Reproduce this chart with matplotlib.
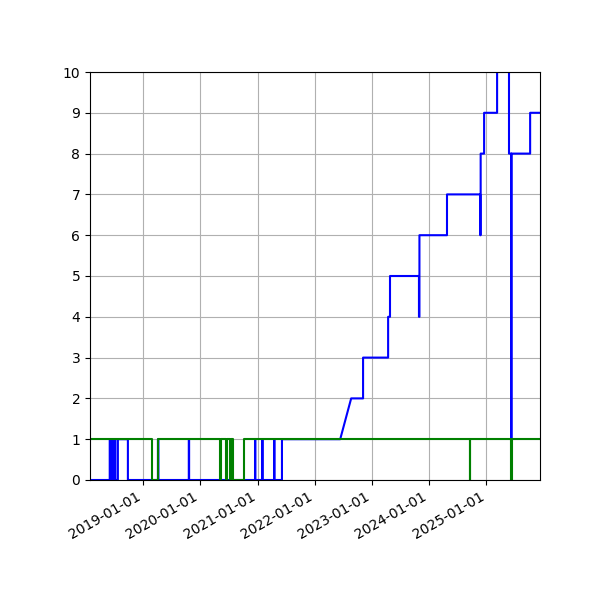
import matplotlib
matplotlib.use('Agg')
import matplotlib.pyplot as plt
import matplotlib.dates as mdates
import pandas as pd

# blue series: (date, value), repeated dates give vertical jumps
blue_dates = ['2018-01-27', '2018-06-02', '2018-06-02', '2018-06-08', '2018-06-08', '2018-06-15', '2018-06-15',
              '2018-06-22', '2018-06-22', '2018-06-30', '2018-06-30', '2018-07-08', '2018-07-08',
              '2018-07-24', '2018-07-24', '2018-09-26', '2018-09-26', '2018-09-28', '2018-09-28',
              '2019-04-06', '2019-04-06', '2019-04-09', '2019-04-09',
              '2019-10-20', '2019-10-20', '2019-10-22', '2019-10-22',
              '2020-12-16', '2020-12-16', '2020-12-18', '2020-12-18',
              '2021-01-31', '2021-01-31', '2021-02-02', '2021-02-02',
              '2021-04-17', '2021-04-17', '2021-04-19', '2021-04-19',
              '2021-06-06', '2021-06-06', '2022-06-13', '2022-08-22', '2022-11-06', '2022-11-06',
              '2023-04-15', '2023-04-15', '2023-04-27', '2023-04-27', '2023-10-29', '2023-10-29',
              '2023-11-01', '2023-11-01', '2024-04-25', '2024-04-25', '2024-11-23', '2024-11-23',
              '2024-11-26', '2024-11-26', '2024-12-18', '2024-12-18', '2025-03-11', '2025-03-11',
              '2025-05-26', '2025-05-26', '2025-06-09', '2025-06-09', '2025-06-11', '2025-06-11',
              '2025-10-08', '2025-10-08', '2025-12-10']
blue_vals = [0, 0, 1, 1, 0, 0, 1,
             1, 0, 0, 1, 1, 0,
             0, 1, 1, 0, 0, 0,
             0, 1, 1, 0,
             0, 1, 1, 0,
             0, 1, 1, 0,
             0, 1, 1, 0,
             0, 1, 1, 0,
             0, 1, 1, 2, 2, 3,
             3, 4, 4, 5, 5, 4,
             4, 6, 6, 7, 7, 6,
             6, 8, 8, 9, 9, 11,
             11, 8, 8, 0, 0, 8,
             8, 9, 9]

green_dates = ['2018-01-27', '2019-02-27', '2019-02-27', '2019-04-06', '2019-04-06',
               '2020-05-07', '2020-05-07', '2020-05-14', '2020-05-14', '2020-06-15', '2020-06-15',
               '2020-06-18', '2020-06-18', '2020-07-10', '2020-07-10', '2020-07-14', '2020-07-14',
               '2020-07-29', '2020-07-29', '2020-10-07', '2020-10-07',
               '2024-09-19', '2024-09-19', '2024-09-21', '2024-09-21',
               '2025-06-09', '2025-06-09', '2025-06-12', '2025-06-12', '2025-12-10']
green_vals = [1, 1, 0, 0, 1,
              1, 0, 0, 1, 1, 0,
              0, 1, 1, 0, 0, 1,
              1, 0, 0, 1,
              1, 0, 0, 1,
              1, 0, 0, 1, 1]

fig, ax = plt.subplots(figsize=(6, 6), dpi=100)
ax.plot(pd.to_datetime(blue_dates), blue_vals, color='blue', lw=1.5)
ax.plot(pd.to_datetime(green_dates), green_vals, color='green', lw=1.5)
ax.set_ylim(0, 10)
ax.set_yticks(range(11))
ax.set_xlim(pd.Timestamp('2018-01-27'), pd.Timestamp('2025-12-10'))
ax.xaxis.set_major_locator(mdates.YearLocator())
ax.xaxis.set_major_formatter(mdates.DateFormatter('%Y-%m-%d'))
ax.grid(True)
fig.autofmt_xdate()
fig.subplots_adjust(left=0.15, right=0.9, top=0.88, bottom=0.2)
fig.savefig('out.png')
